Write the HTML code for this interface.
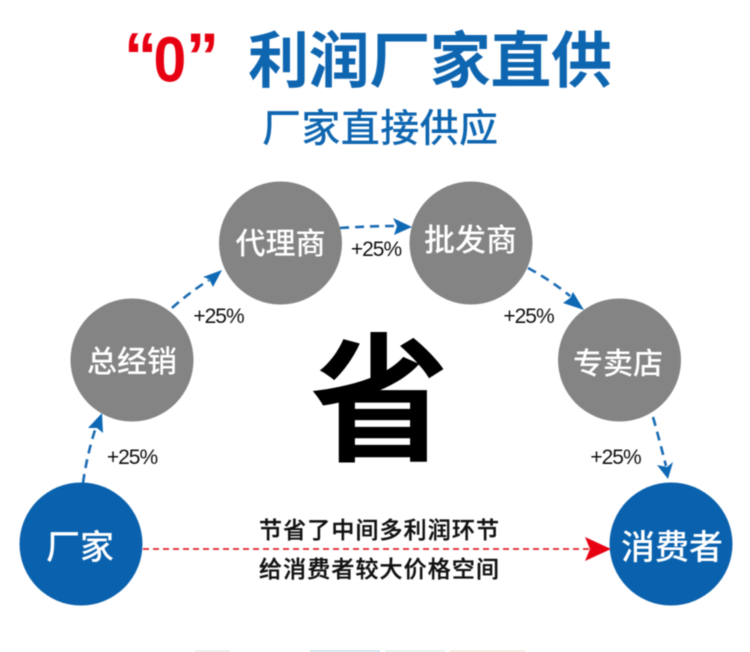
<!DOCTYPE html>
<html><head><meta charset="utf-8">
<style>
html,body{margin:0;padding:0;background:#fff}
svg{display:block}
text{font-family:"Liberation Sans","Noto Sans CJK SC",sans-serif}
</style></head>
<body>
<svg width="750" height="652" viewBox="0 0 750 652" xmlns="http://www.w3.org/2000/svg">
<rect width="750" height="652" fill="#fff"/>
<g style="filter:blur(0.5px)">
<text x="124" y="79" font-size="66" font-weight="700" fill="#e60012">“</text>
<text x="0" y="0" font-size="64" font-weight="700" fill="#e60012" transform="translate(153.5 81.5) scale(0.92 1)">0</text>
<text x="186" y="79" font-size="66" font-weight="700" fill="#e60012">”</text>
<text x="248" y="82" font-size="61" font-weight="700" fill="#0f66b0" textLength="364" lengthAdjust="spacing">利润厂家直供</text>
<text x="262" y="142" font-size="39" font-weight="500" fill="#0f66b0" textLength="236" lengthAdjust="spacing">厂家直接供应</text>

<g fill="#848484">
<circle cx="132" cy="360" r="61.5"/>
<circle cx="280.5" cy="243" r="61.5"/>
<circle cx="471" cy="243" r="61.5"/>
<circle cx="619.5" cy="360" r="61.5"/>
</g>
<g fill="#0a62ae">
<circle cx="81" cy="544" r="61.5"/>
<circle cx="671" cy="544" r="61.5"/>
</g>

<g fill="#fff" font-size="30" text-anchor="middle" font-weight="500">
<text x="132" y="372">总经销</text>
<text x="280.5" y="254">代理商</text>
<text x="470.5" y="251" font-size="31">批发商</text>
<text x="618" y="374">专卖店</text>
<text x="80" y="559" font-size="34">厂家</text>
<text x="672" y="559" font-size="34">消费者</text>
</g>

<text x="379.5" y="450" font-size="139" font-weight="700" fill="#000" text-anchor="middle">省</text>

<g fill="#111" font-size="21" text-anchor="middle" letter-spacing="-1">
<text x="132" y="464">+25%</text>
<text x="218.5" y="323">+25%</text>
<text x="376" y="256">+25%</text>
<text x="528.5" y="323">+25%</text>
<text x="615.5" y="464">+25%</text>
</g>

<g fill="none" stroke="#1a6cb3" stroke-width="2.6" stroke-dasharray="9 6">
<path d="M83 483 Q87 455 95 430"/>
<path d="M172 308 Q190 292 209 280"/>
<path d="M340 228 Q370 226 398 226"/>
<path d="M528 268 Q552 281 570 296"/>
<path d="M653 417 Q660 442 666 466"/>
</g>
<g fill="#0f68b4">
<polygon points="102,413 88,428 97,428 103,433"/>
<polygon points="222,270 203,277 209,279 213,287"/>
<polygon points="412,227 393,218 397,226 394,235"/>
<polygon points="584,310 563,303 570,298 573,292"/>
<polygon points="668,479 657,465 667,467 673,462"/>
</g>

<line x1="143" y1="549" x2="590" y2="549" stroke="#e0232a" stroke-width="1.8" stroke-dasharray="6 4"/>
<polygon points="611,549 585,537 590,549 585,561" fill="#e60012"/>

<g fill="#111" stroke="#111" stroke-width="0.35" font-size="23" text-anchor="middle" font-weight="500">
<text x="379" y="538" textLength="240" lengthAdjust="spacing">节省了中间多利润环节</text>
<text x="379" y="577" textLength="240" lengthAdjust="spacing">给消费者较大价格空间</text>
</g>
</g>

<rect x="195" y="650" width="35" height="2" fill="#e4e4e4" opacity=".6"/>
<rect x="310" y="650" width="70" height="2" fill="#bfe0ec" opacity=".6"/>
<rect x="385" y="650" width="60" height="2" fill="#d3e8d8" opacity=".5"/>
<rect x="450" y="650" width="75" height="2" fill="#e8e0d0" opacity=".5"/>
</svg>
</body></html>
